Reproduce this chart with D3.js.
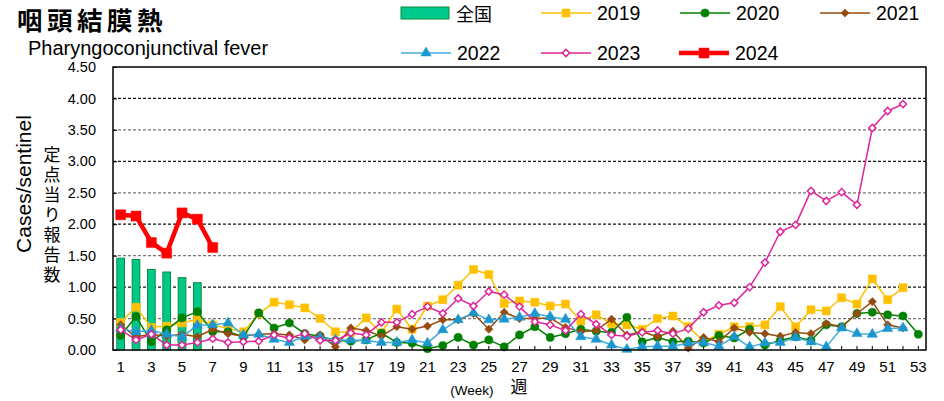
<!DOCTYPE html>
<html>
<head>
<meta charset="utf-8">
<script src="https://cdn.jsdelivr.net/npm/d3@7"></script>
<style>
  body { margin: 0; background: #fff; }
  text { font-family: "Liberation Sans", Arial, sans-serif; fill: #000; }
  .jp { font-family: "Noto Sans CJK JP", sans-serif; }
</style>
</head>
<body>
<svg id="chart" width="944" height="401"></svg>
<script>
// week numbers on the x axis
var weeks = d3.range(1, 54);
var yTicks = [0, 0.5, 1, 1.5, 2, 2.5, 3, 3.5, 4, 4.5];

// 全国 (bars, weeks 1-6)
var national = [1.46, 1.44, 1.28, 1.24, 1.15, 1.07];

var y2019 = [0.44, 0.68, 0.36, 0.38, 0.43, 0.49, 0.40, 0.34, 0.29, 0.57,
             0.76, 0.72, 0.67, 0.50, 0.29, 0.28, 0.51, 0.27, 0.65, 0.33,
             0.70, 0.80, 1.03, 1.28, 1.20, 0.74, 0.78, 0.76, 0.70, 0.73,
             0.46, 0.56, 0.42, 0.40, 0.33, 0.50, 0.54, 0.37, 0.14, 0.25,
             0.37, 0.37, 0.40, 0.69, 0.37, 0.64, 0.62, 0.83, 0.73, 1.13,
             0.80, 0.99];
var y2020 = [0.23, 0.53, 0.13, 0.32, 0.51, 0.61, 0.29, 0.29, 0.21, 0.59,
             0.35, 0.43, 0.26, 0.22, 0.15, 0.14, 0.16, 0.27, 0.12, 0.11,
             0.02, 0.07, 0.20, 0.08, 0.16, 0.05, 0.24, 0.37, 0.20, 0.26,
             0.33, 0.30, 0.28, 0.52, 0.13, 0.20, 0.13, 0.14, 0.11, 0.23,
             0.19, 0.33, 0.08, 0.15, 0.21, 0.15, 0.40, 0.37, 0.58, 0.60,
             0.56, 0.54, 0.25];
var y2021 = [0.40, 0.21, 0.25, 0.22, 0.25, 0.21, 0.33, 0.26, 0.22, 0.25,
             0.26, 0.24, 0.16, 0.24, 0.05, 0.35, 0.31, 0.22, 0.37, 0.33,
             0.38, 0.48, 0.48, 0.58, 0.33, 0.60, 0.50, 0.50, 0.51, 0.36,
             0.29, 0.31, 0.49, 0.24, 0.29, 0.21, 0.30, 0.03, 0.20, 0.13,
             0.35, 0.28, 0.26, 0.22, 0.28, 0.26, 0.42, 0.37, 0.58, 0.77,
             0.40, 0.35];
var y2022 = [0.34, 0.29, 0.31, 0.25, 0.21, 0.39, 0.40, 0.43, 0.24, 0.25,
             0.17, 0.12, 0.22, 0.20, 0.16, 0.16, 0.15, 0.12, 0.12, 0.16,
             0.11, 0.32, 0.48, 0.59, 0.48, 0.49, 0.52, 0.58, 0.53, 0.49,
             0.21, 0.17, 0.08, 0.01, 0.05, 0.06, 0.06, 0.11, 0.12, 0.06,
             0.21, 0.05, 0.11, 0.12, 0.20, 0.13, 0.05, 0.35, 0.26, 0.25,
             0.34, 0.35];
var y2023 = [0.32, 0.16, 0.25, 0.08, 0.08, 0.12, 0.18, 0.12, 0.13, 0.14,
             0.24, 0.19, 0.26, 0.15, 0.15, 0.27, 0.24, 0.44, 0.44, 0.57,
             0.69, 0.58, 0.82, 0.70, 0.93, 0.88, 0.69, 0.45, 0.40, 0.31,
             0.57, 0.41, 0.24, 0.22, 0.28, 0.31, 0.26, 0.34, 0.60, 0.71,
             0.75, 1.00, 1.39, 1.88, 1.99, 2.53, 2.37, 2.51, 2.31, 3.53,
             3.80, 3.91];
var y2024 = [2.15, 2.13, 1.71, 1.54, 2.18, 2.08, 1.63];

var series = [
  { name: "2019", values: y2019, color: "#FFC000", line: "#FFC000", width: 1.5, shape: "square", size: 64, fill: "#FFC000" },
  { name: "2020", values: y2020, color: "#008000", line: "#008000", width: 1.5, shape: "circle", size: 52, fill: "#008000" },
  { name: "2021", values: y2021, color: "#964B0F", line: "#964B0F", width: 1.5, shape: "diamond", size: 34, fill: "#964B0F" },
  { name: "2022", values: y2022, color: "#1B96CF", line: "#41ADDC", width: 1.5, shape: "triangle", size: 46, fill: "#1B96CF" },
  { name: "2023", values: y2023, color: "#E0249C", line: "#E0249C", width: 1.5, shape: "diamond", size: 26, fill: "#fff" },
  { name: "2024", values: y2024, color: "#FF0000", line: "#FF0000", width: 4.5, shape: "square", size: 100, fill: "#FF0000" }
];

var svg = d3.select("#chart");
var plotL = 113, plotR = 926, plotT = 67, plotB = 350;

var x = d3.scaleBand().domain(weeks).range([plotL, plotR]);
var y = d3.scaleLinear().domain([0, 4.5]).range([plotB, plotT]);
var cx = function(i) { return x(weeks[i]) + x.bandwidth() / 2; };

// dashed grid
svg.append("g").selectAll("line")
  .data(yTicks.filter(function(v) { return v > 0 && v < 4.5; }))
  .enter().append("line")
  .attr("x1", plotL).attr("x2", plotR)
  .attr("y1", function(d) { return y(d); }).attr("y2", function(d) { return y(d); })
  .attr("stroke", function(d, i) { return i % 2 ? "#111" : "#777"; })
  .attr("stroke-width", 1.3)
  .attr("stroke-dasharray", "3,2");

// axes
var yAxis = svg.append("g").attr("transform", "translate(" + plotL + ",0)")
  .call(d3.axisLeft(y).tickValues(yTicks).tickFormat(d3.format(".2f"))
    .tickSizeInner(-4).tickSizeOuter(0).tickPadding(17));
yAxis.select(".domain").remove();
yAxis.selectAll("text").style("font-size", "14.5px").style("font-family", "Liberation Sans, Arial, sans-serif");

var xAxis = svg.append("g").attr("transform", "translate(0," + plotB + ")")
  .call(d3.axisBottom(x).tickFormat(function(d) { return d % 2 ? d : ""; })
    .tickSizeInner(-4).tickSizeOuter(0).tickPadding(11));
xAxis.select(".domain").remove();
xAxis.selectAll("text").style("font-size", "15px").style("font-family", "Liberation Sans, Arial, sans-serif");

// bars
svg.append("g").selectAll("rect")
  .data(national).enter().append("rect")
  .attr("x", function(d, i) { return cx(i) - x.bandwidth() * 0.25; })
  .attr("width", x.bandwidth() * 0.5)
  .attr("y", function(d) { return y(d); })
  .attr("height", function(d) { return plotB - y(d); })
  .attr("fill", "#00C98C")
  .attr("stroke", "#0A8A3A")
  .attr("stroke-width", 1);

function symbolPath(s) {
  if (s.shape === "circle") return d3.symbol(d3.symbolCircle, s.size)();
  if (s.shape === "triangle") return d3.symbol(d3.symbolTriangle, s.size)();
  return d3.symbol(d3.symbolSquare, s.size)();
}

// lines + markers
series.forEach(function(s) {
  var line = d3.line().x(function(d, i) { return cx(i); }).y(function(d) { return y(d); });
  var g = svg.append("g");
  g.append("path").datum(s.values)
    .attr("d", line).attr("fill", "none")
    .attr("stroke", s.line).attr("stroke-width", s.width)
    .attr("stroke-linejoin", "round");
  g.selectAll("path.m").data(s.values).enter().append("path")
    .attr("class", "m")
    .attr("d", symbolPath(s))
    .attr("transform", function(d, i) {
      return "translate(" + cx(i) + "," + y(d) + ")" + (s.shape === "diamond" ? " rotate(45)" : "");
    })
    .attr("fill", s.fill)
    .attr("stroke", s.color)
    .attr("stroke-width", s.fill === "#fff" ? 1.5 : 0.5);
});

// frame
svg.append("rect").attr("x", plotL).attr("y", plotT)
  .attr("width", plotR - plotL).attr("height", plotB - plotT)
  .attr("fill", "none").attr("stroke", "#000").attr("stroke-width", 1.5);

// titles
svg.append("text").attr("class", "jp").attr("x", 17).attr("y", 29.5)
  .style("font-size", "25.5px").style("font-weight", "bold").style("letter-spacing", "4.5px")
  .text("咽頭結膜熱");
svg.append("text").attr("x", 28).attr("y", 55).style("font-size", "20px")
  .text("Pharyngoconjunctival fever");

svg.append("text").attr("transform", "translate(31,184) rotate(-90)")
  .attr("text-anchor", "middle").style("font-size", "21px")
  .text("Cases/sentinel");
svg.append("text").attr("class", "jp").attr("x", 52).attr("y", 146)
  .style("writing-mode", "vertical-rl").style("font-size", "17px").style("letter-spacing", "3px")
  .text("定点当り報告数");

svg.append("text").attr("x", 472).attr("y", 395).attr("text-anchor", "middle")
  .style("font-size", "13.5px").text("(Week)");
svg.append("text").attr("class", "jp").attr("x", 519).attr("y", 393).attr("text-anchor", "middle")
  .style("font-size", "17px").text("週");

// legend
var legendPos = [
  { name: "2019", x: 541, y: 13 }, { name: "2020", x: 680, y: 13 }, { name: "2021", x: 820, y: 13 },
  { name: "2022", x: 401, y: 53 }, { name: "2023", x: 541, y: 53 }, { name: "2024", x: 679, y: 53 }
];
var lg = svg.append("g");
lg.append("rect").attr("x", 401).attr("y", 7).attr("width", 48).attr("height", 12)
  .attr("fill", "#00C98C").attr("stroke", "#0A8A3A").attr("stroke-width", 1);
lg.append("text").attr("class", "jp").attr("x", 456).attr("y", 21).style("font-size", "18px").text("全国");
legendPos.forEach(function(p) {
  var s = series.find(function(d) { return d.name === p.name; });
  lg.append("line").attr("x1", p.x).attr("x2", p.x + 50).attr("y1", p.y).attr("y2", p.y)
    .attr("stroke", s.line).attr("stroke-width", s.width);
  lg.append("path").attr("d", symbolPath(s))
    .attr("transform", "translate(" + (p.x + 25) + "," + p.y + ")" + (s.shape === "diamond" ? " rotate(45)" : ""))
    .attr("fill", s.fill).attr("stroke", s.color).attr("stroke-width", s.fill === "#fff" ? 1.5 : 0.5);
  lg.append("text").attr("x", p.x + 56).attr("y", p.y + 7).style("font-size", "19.5px").text(s.name);
});
</script>
</body>
</html>
